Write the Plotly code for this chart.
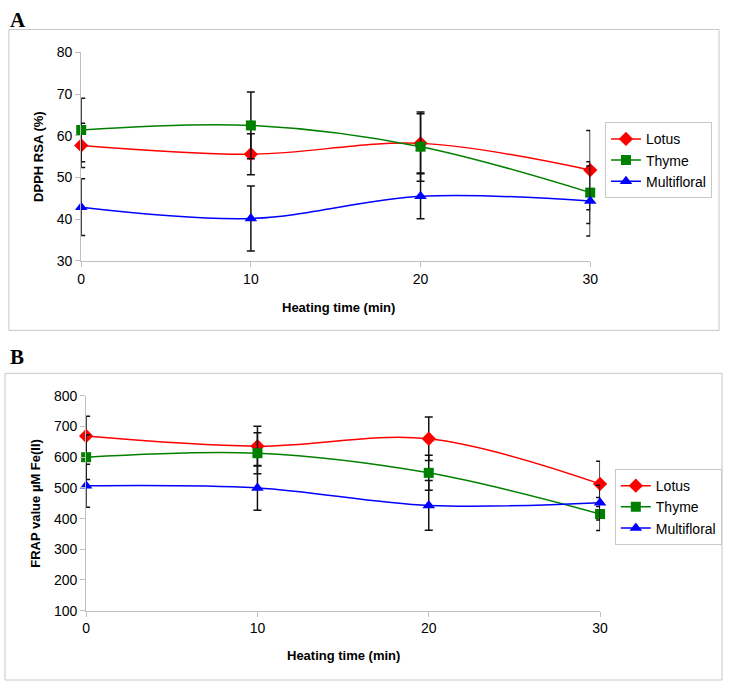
import plotly.graph_objects as go

W, H = 731, 690

times = [0, 10, 20, 30]
series_names = ["Lotus", "Thyme", "Multifloral"]

# Panel A: DPPH RSA (%)
dpph_lotus = [57.7, 55.6, 58.2, 51.8]
dpph_thyme = [61.4, 62.5, 57.4, 46.4]
dpph_multi = [42.9, 40.2, 45.5, 44.4]
dpph_lotus_err = [5.3, 4.9, 7.1, 9.5]
dpph_thyme_err = [7.6, 8.0, 8.3, 7.4]
dpph_multi_err = [6.8, 7.8, 5.4, 8.4]

# Panel B: FRAP value µM Fe(II)
frap_lotus = [669, 636, 660, 513]
frap_thyme = [600, 613, 549, 415]
frap_multi = [507, 500, 443, 452]
frap_lotus_err = [64, 65, 71, 74]
frap_thyme_err = [73, 67, 57, 54]
frap_multi_err = [70, 73, 81, 57]

colors = ["#FF0000", "#008000", "#0000FF"]
symbols = ["diamond", "square", "triangle-up"]
msizes = [11, 10, 11]

FONT = "Arial, Liberation Sans, sans-serif"

fig = go.Figure()

def add_panel(vals, errs, xa, ya, legend):
    for i, name in enumerate(series_names):
        fig.add_trace(go.Scatter(
            x=times, y=vals[i], name=name, mode="lines+markers",
            line=dict(color=colors[i], width=1.5, shape="spline", smoothing=1.0),
            marker=dict(symbol=symbols[i], size=msizes[i], color=colors[i]),
            error_y=dict(type="data", array=errs[i], visible=True,
                         color="#111111", thickness=1.5, width=4),
            xaxis=xa, yaxis=ya, legend=legend, cliponaxis=False,
            hoverinfo="skip",
        ))

add_panel([dpph_lotus, dpph_thyme, dpph_multi],
          [dpph_lotus_err, dpph_thyme_err, dpph_multi_err], "x", "y", "legend")
add_panel([frap_lotus, frap_thyme, frap_multi],
          [frap_lotus_err, frap_thyme_err, frap_multi_err], "x2", "y2", "legend2")

def px_x(p):
    return p / W

def px_y(p):
    return 1 - p / H

axis_common = dict(showline=True, linecolor="#BFBFBF", linewidth=1,
                   ticks="outside", tickcolor="#BFBFBF", ticklen=5,
                   showgrid=False, zeroline=False,
                   tickfont=dict(family=FONT, size=14, color="black"))

legend_common = dict(xanchor="left", yanchor="top",
                     bordercolor="#C8C8C8", borderwidth=1, bgcolor="white",
                     font=dict(family=FONT, size=14, color="black"),
                     itemwidth=30, tracegroupgap=0)

fig.update_layout(
    width=W, height=H,
    margin=dict(l=0, r=0, t=0, b=0),
    paper_bgcolor="white", plot_bgcolor="white",
    hovermode=False,
    xaxis=dict(domain=[px_x(78.5), px_x(596)], range=[0, 30], dtick=10,
               anchor="y", **axis_common),
    yaxis=dict(domain=[px_y(259), px_y(45.5)], range=[30, 80], dtick=10,
               anchor="x", **axis_common),
    xaxis2=dict(domain=[px_x(83.5), px_x(606)], range=[0, 30], dtick=10,
                anchor="y2", **axis_common),
    yaxis2=dict(domain=[px_y(617), px_y(397)], range=[100, 800], dtick=100,
                anchor="x2", **axis_common),
    legend=dict(x=px_x(611), y=px_y(117), **legend_common),
    legend2=dict(x=px_x(621), y=px_y(472), **legend_common),
    showlegend=True,
)

# panel borders
fig.add_shape(type="rect", xref="paper", yref="paper",
              x0=px_x(5), x1=px_x(727), y0=px_y(330), y1=px_y(22),
              line=dict(color="#C8C8C8", width=1), layer="below")
fig.add_shape(type="rect", xref="paper", yref="paper",
              x0=px_x(1), x1=px_x(730), y0=px_y(688), y1=px_y(374),
              line=dict(color="#C8C8C8", width=1), layer="below")

def ann(text, x, y, size, family=FONT, bold=True, angle=0):
    fig.add_annotation(text=f"<b>{text}</b>" if bold else text,
                       xref="paper", yref="paper", x=px_x(x), y=px_y(y),
                       xanchor="center", yanchor="middle", showarrow=False,
                       textangle=angle,
                       font=dict(family=family, size=size, color="black"))

SERIF = "Liberation Serif, Times New Roman, serif"
ann("A", 14, 12, 21, family=SERIF)
ann("B", 13, 357, 21, family=SERIF)
ann("DPPH RSA (%)", 35, 152, 13, angle=-90)
ann("Heating time (min)", 340, 307, 13)
ann("FRAP value µM Fe(II)", 32, 507, 13, angle=-90)
ann("Heating time (min)", 345, 663, 13)

fig.write_html("out.html",
               config={"displayModeBar": False, "staticPlot": True},
               post_script="document.body.style.margin='0';document.body.style.overflow='hidden';")
